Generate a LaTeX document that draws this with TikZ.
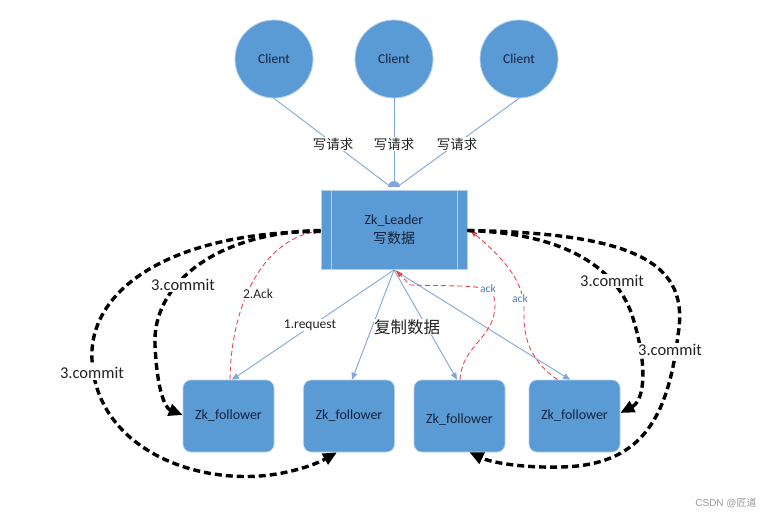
\documentclass[tikz,border=0pt]{standalone}
\usepackage{fontspec}
\setmainfont{Carlito}
\newfontfamily\cjk{Noto Sans CJK SC}
\newfontfamily\wmfont{Liberation Sans}
\usetikzlibrary{arrows.meta,calc}
\definecolor{nodefill}{HTML}{5B9BD5}
\definecolor{nodeline}{HTML}{B4D0EE}
\definecolor{linkblue}{HTML}{7FA8D8}
\definecolor{ackred}{HTML}{E8474C}
\definecolor{txt}{HTML}{15233A}
\definecolor{acktxt}{HTML}{4F7FBF}
\definecolor{lbltxt}{HTML}{222222}
\begin{document}
\begin{tikzpicture}[x=1pt,y=-1pt,
 client/.style={circle,fill=nodefill,draw=nodeline,line width=0.8pt,minimum size=78pt,inner sep=0pt,font=\fontsize{13.5}{15}\selectfont,text=txt},
 follower/.style={rectangle,rounded corners=8pt,fill=nodefill,draw=nodeline,line width=0.6pt,minimum width=91pt,minimum height=72pt,inner sep=0pt,font=\fontsize{14}{16}\selectfont,text=txt},
 leaderbox/.style={rectangle,fill=nodefill,draw=nodeline,line width=0.8pt,minimum width=146pt,minimum height=79pt,inner sep=0pt,align=center,text=txt,font=\fontsize{14}{19}\selectfont},
 req/.style={linkblue,line width=0.9pt},
 reqarrow/.style={req,-{Triangle[length=7pt,width=6pt]}},
 ackline/.style={ackred,line width=0.9pt,dash pattern=on 5pt off 3pt,-{Triangle[length=7pt,width=5pt]}},
 commit/.style={black,line width=3.4pt,dash pattern=on 7pt off 4pt,-{Triangle[length=14pt,width=12pt]}},
 lbl/.style={fill=white,inner sep=1pt,text=lbltxt,font=\fontsize{13.5}{15}\selectfont},
 cjklbl/.style={fill=white,inner sep=1pt,text=lbltxt,font=\cjk\fontsize{13.5}{15}\selectfont},
 commitlbl/.style={fill=white,inner sep=1pt,text=lbltxt,font=\fontsize{16.5}{18}\selectfont},
 acklbl/.style={fill=white,inner sep=0.5pt,text=acktxt,font=\fontsize{11.5}{12}\selectfont}
]
\useasboundingbox (0,0) rectangle (773,518);

% clients
\node[client] (c1) at (274,59) {Client};
\node[client] (c2) at (394,59) {Client};
\node[client] (c3) at (519,59) {Client};

% leader
\node[leaderbox] (L) at (394,229.5) {Zk\_Leader\\{\cjk 写数据}};
\draw[nodeline,line width=0.8pt] ([xshift=11pt]L.north west) -- ([xshift=11pt]L.south west);
\draw[nodeline,line width=0.8pt] ([xshift=-10pt]L.north east) -- ([xshift=-10pt]L.south east);
\coordinate (bump) at (394,187);

% followers
\node[follower] (f1) at (228.5,416) {Zk\_follower};
\node[follower] (f2) at (349,416) {Zk\_follower};
\node[follower] (f3) at (459.5,416) {\raisebox{-4pt}[\height][\depth]{Zk\_follower}};
\node[follower] (f4) at (574.5,416) {Zk\_follower};

% client requests
\draw[req] (c1.south) -- ($(bump)+(-3,0)$);
\draw[req] (c2.south) -- (bump);
\draw[req] (c3.south) -- ($(bump)+(3,0)$);
\fill[linkblue] ([xshift=-6pt]bump) arc[start angle=180,end angle=0,radius=6pt] -- cycle;
\node[cjklbl] (w1) at (333,144) {写请求};
\node[cjklbl] (w2) at (394,144) {写请求};
\node[cjklbl] (w3) at (457,144) {写请求};

% replication
\coordinate (Ls) at ($(L.south)+(0,0.5)$);
\draw[reqarrow] (Ls) -- ($(f1.north)+(3.5,0)$);
\draw[reqarrow] (Ls) -- ($(f2.north)+(3,0)$);
\draw[reqarrow] (Ls) -- ($(f3.north)+(-2.5,0)$);
\draw[reqarrow] (Ls) -- ($(f4.north)+(-4.5,0)$);
\node[lbl] (r1) at (310,325) {1.request};
\node[fill=white,inner sep=0pt,text=lbltxt,font=\cjk\fontsize{16.5}{18}\selectfont] (cp) at (407,327) {复制数据};

% acks
\draw[ackline] ($(f1.north)+(1.5,0)$) .. controls (231,305) and (262,242) .. ([yshift=-1pt]L.west);
\node[lbl] (a1) at (258,294) {2.Ack};
\draw[ackline] ($(f3.north)+(0.5,0)$) .. controls (462,345) and (495,338) .. (495,305)
   .. controls (495,290) and (488,287) .. (460,286) -- (410,285) -- ($(L.south)+(2,1)$);
\node[acklbl] (a2) at (488,289) {ack};
\draw[ackline] ($(f4.north)+(-17,0)$) .. controls (532,362) and (523,340) .. (524,312)
   .. controls (525,285) and (508,262) .. ($(L.east)+(3,1)$);
\node[acklbl] (a3) at (520,299) {ack};

% commits left
\draw[commit] ([yshift=-1pt]L.west) .. controls (215,232) and (152,285) .. (155,345)
   .. controls (157,390) and (165,408) .. ($(f1.west)+(0,-1)$);
\node[commitlbl] (k1) at (183,285) {3.commit};
\draw[commit] ([yshift=-2pt]L.west) .. controls (170,232) and (88,290) .. (92,360)
   .. controls (96,445) and (190,485) .. (270,475)
   .. controls (300,471) and (320,462) .. ($(f2.south)+(-12,0)$);
\node[commitlbl] (k2) at (92,373) {3.commit};

% commits right
\draw[commit] ([yshift=-1pt]L.east) .. controls (560,233) and (615,265) .. (632,315)
   .. controls (648,365) and (645,400) .. ($(f4.east)+(0,-3)$);
\node[commitlbl] (k3) at (612,281) {3.commit};
\draw[commit] ([yshift=-1pt]L.east) .. controls (640,233) and (690,265) .. (678,335)
   .. controls (668,420) and (640,466) .. (560,467)
   .. controls (520,468) and (490,462) .. ($(f3.south)+(10,0)$);
\node[commitlbl] (k4) at (670,350) {3.commit};

% watermark
\node[text=black!40,font=\fontsize{10}{12}\selectfont,inner sep=0pt] (wm) at (726,503) {\wmfont CSDN @\cjk 匠道};
\end{tikzpicture}
\end{document}
